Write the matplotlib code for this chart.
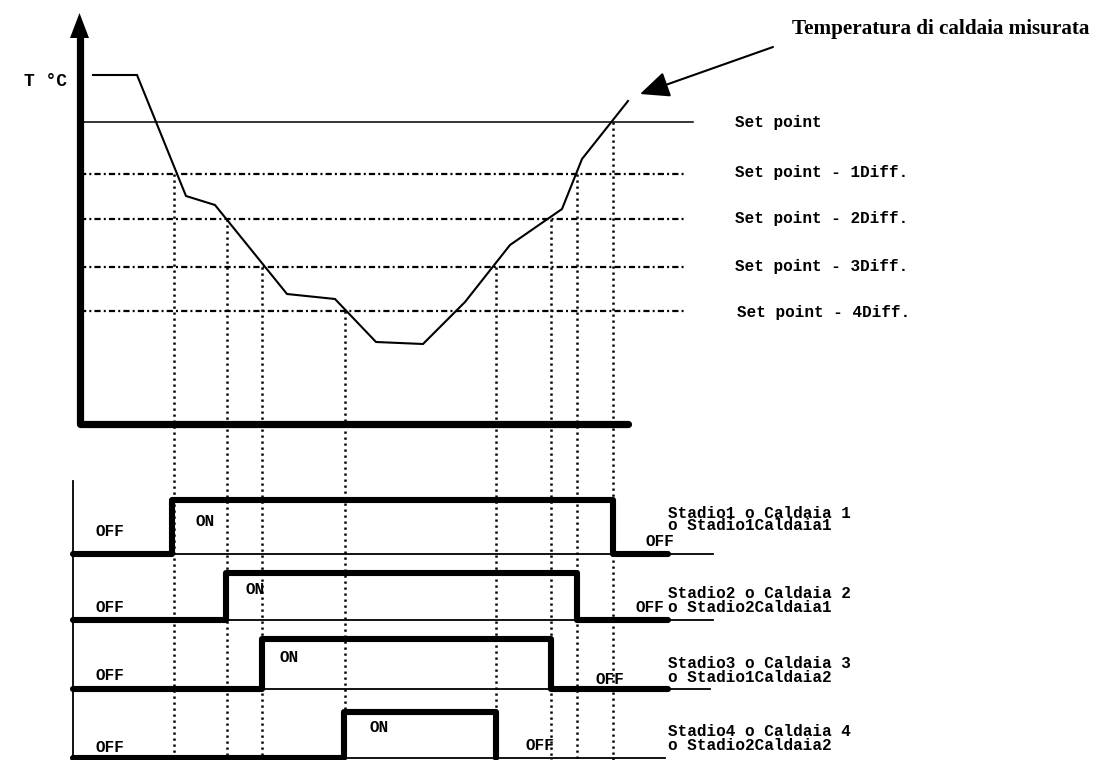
import matplotlib
matplotlib.use("Agg")
import matplotlib.pyplot as plt

# ---------------- data (schematic units: x = time, y = level) ----------------
curve_t = [93, 137, 186, 215, 287, 335, 376, 423, 465, 510, 562, 582, 628]
curve_T = [75, 75, 196, 205, 294, 299, 342, 344, 302, 245, 209, 159, 101]

setpoint_y = 122
diff_y = [174, 219, 267, 311]
threshold_labels = ["Set point", "Set point - 1Diff.", "Set point - 2Diff.",
                    "Set point - 3Diff.", "Set point - 4Diff."]
threshold_label_y = [123, 172, 219, 266, 313]
threshold_label_x = [735, 735, 735, 735, 737]

# switching instants (crossing points) and the level they cross
cross_t = [174, 227, 262, 345, 496, 551, 577, 613]
cross_y = [174, 219, 267, 311, 267, 219, 174, 122]

# stages: on time, off time, low / high level
stage_on = [172, 226, 262, 344]
stage_off = [613, 577, 551, 496]
stage_low = [554, 620, 689, 758]
stage_high = [500, 573, 639, 712]
stage_thick_end = [668, 668, 668, 496]
stage_thin_end = [713, 713, 710, 665]
stage_names = [("Stadio1 o Caldaia 1", "o Stadio1Caldaia1"),
               ("Stadio2 o Caldaia 2", "o Stadio2Caldaia1"),
               ("Stadio3 o Caldaia 3", "o Stadio1Caldaia2"),
               ("Stadio4 o Caldaia 4", "o Stadio2Caldaia2")]
stage_name_y = [(513, 526), (594, 608), (663, 677), (732, 745)]
off_left_y = [531, 607, 675, 748]
on_pos = [(195, 522), (245, 589), (280, 657), (370, 728)]
off_right_pos = [(645, 541), (635, 608), (595, 679), (525, 746)]

# ---------------- figure ----------------
W, H = 1108, 760
fig = plt.figure(figsize=(W / 100, H / 100), dpi=100)
ax = fig.add_axes([0, 0, 1, 1])
ax.set_xlim(0, W)
ax.set_ylim(H, 0)
ax.axis("off")

mono = dict(family="Liberation Mono", weight="bold", fontsize=11.5, color="black")

# axes of temperature plot
ax.plot([80, 80], [424, 36], color="black", lw=5.2, solid_capstyle="butt")
ax.fill([70, 89, 79.5], [38, 38, 13], color="black", lw=0)
ax.plot([80, 628], [424, 424], color="black", lw=5.2, solid_capstyle="round")
ax.text(24, 82, "T °C", va="center", ha="left", **{**mono, "fontsize": 13})

# set point and diff lines
ax.plot([80, 693], [setpoint_y, setpoint_y], color="black", lw=1.1)
for y in diff_y:
    ax.plot([80, 686], [y, y], color="black", lw=1.6,
            linestyle=(0, (2.8, 1.4, 0.9, 1.4)))
for lab, x, y in zip(threshold_labels, threshold_label_x, threshold_label_y):
    ax.text(x, y, lab, va="center", ha="left", **mono)

# dotted vertical lines
for t, y in zip(cross_t, cross_y):
    ax.plot([t, t], [y, H], color="black", lw=1.8, linestyle=(0, (0.9, 1.5)))

# temperature curve
ax.plot(curve_t, curve_T, color="black", lw=1.5, solid_joinstyle="miter")

# annotation
ax.annotate("", xy=(640, 94), xytext=(773, 47),
            arrowprops=dict(arrowstyle="-|>,head_length=1.8,head_width=0.8",
                            color="black", lw=1.5, shrinkA=0, shrinkB=0))
ax.text(792, 29, "Temperatura di caldaia misurata", va="center", ha="left",
        family="Liberation Serif", weight="bold", fontsize=15.2)

# switching diagram
ax.plot([73, 73], [481, H], color="black", lw=1.3)
for i in range(4):
    lo, hi = stage_low[i], stage_high[i]
    on, off = stage_on[i], stage_off[i]
    ax.plot([73, stage_thin_end[i]], [lo, lo], color="black", lw=1.3)
    ax.plot([73, on, on, off, off, stage_thick_end[i]],
            [lo, lo, hi, hi, lo, lo], color="black", lw=4.4,
            solid_joinstyle="round", solid_capstyle="round")
    ax.text(96, off_left_y[i], "OFF", va="center", ha="left", **mono)
    ax.text(on_pos[i][0], on_pos[i][1], "ON", va="center", ha="left", **mono)
    ax.text(off_right_pos[i][0], off_right_pos[i][1], "OFF", va="center",
            ha="left", **mono)
    ax.text(668, stage_name_y[i][0], stage_names[i][0], va="center",
            ha="left", **mono)
    ax.text(668, stage_name_y[i][1], stage_names[i][1], va="center",
            ha="left", **mono)

fig.savefig("out.png", dpi=100)
